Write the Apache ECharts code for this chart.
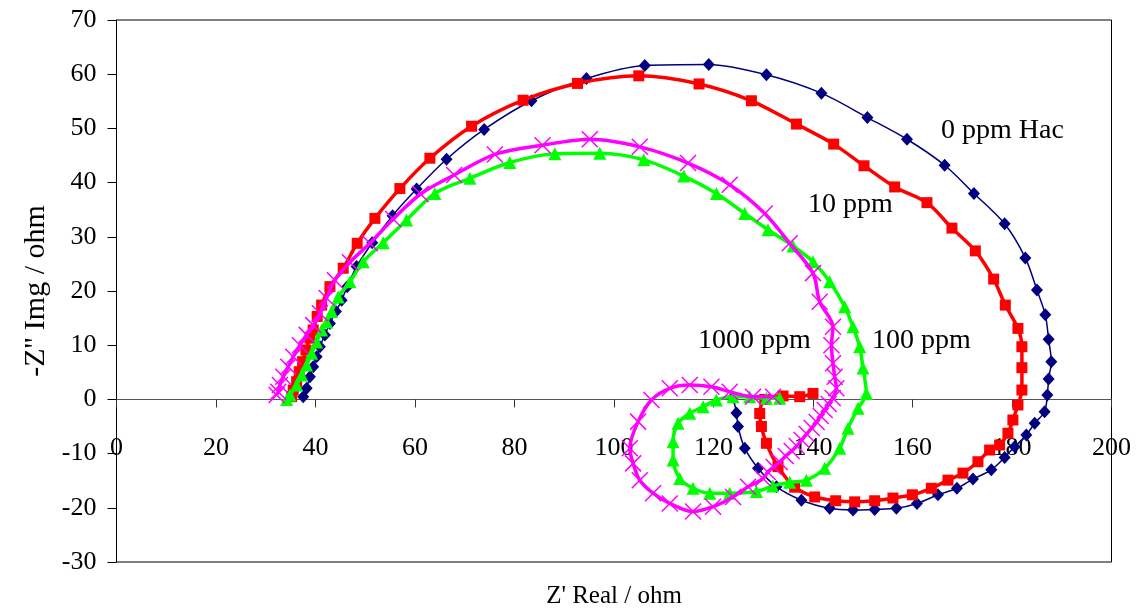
<!DOCTYPE html>
<html>
<head>
<meta charset="utf-8">
<script src="https://cdn.jsdelivr.net/npm/echarts@6/dist/echarts.min.js"></script>
<style>
html,body{margin:0;padding:0;background:#fff;}
#chart{width:1138px;height:612px;}
</style>
</head>
<body>
<div id="chart"></div>
<script>
// Axis ranges / tick settings
const xAxisTicks = { min: 0, max: 200, interval: 20 };
const yAxisTicks = { min: -30, max: 70, interval: 10 };

// Series names / annotation labels
const seriesNames = ['0 ppm Hac', '10 ppm', '100 ppm', '1000 ppm'];

// 0 ppm Hac  [Z' real, -Z'' img]
const ppm0 = [
 [37.53,0.50],[38.22,2.05],[38.88,4.19],[39.54,6.03],[40.22,7.88],[40.89,9.72],[41.89,11.9],[42.90,14.0],
 [44.10,16.2],[45.25,18.3],[46.37,20.8],[48.26,24.5],[51.40,28.9],[55.49,33.9],[60.32,38.8],[66.34,44.3],
 [73.90,49.8],[83.42,55.1],[94.47,59.2],[106.19,61.6],[119.05,61.8],[130.64,59.9],[141.69,56.5],[150.93,52.0],
 [158.89,48.0],[166.46,43.2],[172.35,38.0],[178.52,32.4],[182.68,26.1],[185.01,20.2],[186.70,15.6],[187.36,11.1],
 [187.90,6.96],[187.36,3.76],[187.10,0.81],[186.55,-2.27],[184.55,-4.41],[182.88,-6.57],[180.53,-8.73],[178.52,-10.7],
 [175.84,-13.0],[172.15,-14.7],[168.93,-16.4],[165.12,-17.6],[160.90,-19.2],[156.76,-20.1],[152.40,-20.3],[148.04,-20.4],
 [143.36,-20.1],[137.67,-18.6],[132.65,-16.1],[128.95,-12.7],[126.28,-9.0],[124.93,-5.0],[124.61,-2.5],[123.93,0.4]
];

// 10 ppm
const ppm10 = [
 [35.20,0.50],[35.52,1.73],[36.21,3.27],[36.73,5.11],[37.41,6.96],[38.07,9.11],[38.88,11.3],[39.54,12.8],
 [40.34,15.3],[41.23,17.4],[42.90,20.8],[45.57,24.2],[48.38,28.8],[51.94,33.4],[56.96,38.9],[62.99,44.5],
 [71.37,50.4],[81.73,55.2],[92.66,58.3],[104.98,59.7],[117.10,58.2],[127.62,55.1],[136.67,50.8],[144.16,47.1],
 [150.25,43.1],[156.42,39.2],[162.91,36.3],[167.93,31.6],[172.63,27.4],[176.31,22.2],[178.66,17.4],[181.19,13.1],
 [181.99,9.72],[181.99,5.85],[181.99,1.73],[181.19,-1.03],[180.18,-3.80],[179.18,-6.25],[177.51,-8.41],[175.50,-9.34],
 [173.15,-11.5],[170.14,-13.6],[167.13,-14.9],[163.79,-16.4],[159.97,-17.6],[156.07,-18.2],[152.40,-18.7],[148.38,-18.9],
 [144.56,-18.7],[140.34,-18.0],[136.32,-16.2],[132.97,-12.4],[130.64,-8.1],[129.63,-5.0],[129.29,-2.6],[130.30,0.0],
 [133.97,0.63],[137.33,0.5],[140.00,1.1]
];

// 100 ppm
const ppm100 = [
 [34.20,0.0],[34.86,0.8],[36.21,2.66],[37.21,4.5],[38.22,6.35],[39.22,8.5],[40.22,10.6],[41.23,12.8],
 [42.23,14.3],[43.24,16.2],[44.56,18.9],[46.91,21.7],[49.59,25.4],[53.61,28.9],[58.31,33.1],[63.99,38.0],
 [71.03,40.8],[79.06,43.7],[88.10,45.3],[97.14,45.4],[105.99,44.2],[114.02,41.2],[120.59,38.0],[126.28,34.3],
 [130.96,31.3],[135.98,28.3],[140.00,25.4],[143.36,21.7],[146.37,17.1],[148.04,13.4],[149.38,9.72],[150.05,5.8],
 [150.73,1.1],[149.04,-1.64],[147.03,-5.33],[145.37,-9.0],[142.35,-12.7],[138.67,-14.9],[135.32,-15.3],[131.90,-16.0],
 [128.63,-17.0],[123.26,-17.3],[119.25,-17.3],[115.89,-16.4],[113.22,-14.6],[111.87,-11.2],[111.87,-7.8],[112.88,-4.4],
 [115.23,-2.56],[117.90,-1.35],[120.59,-0.1],[123.93,0.5],[127.28,0.5],[130.64,0.2],[133.31,0.2]
];

// 1000 ppm
const ppm1000 = [
 [32.19,0.81],[32.51,1.42],[32.85,2.66],[33.51,4.19],[34.52,6.03],[35.52,7.88],[36.87,10.0],[38.22,11.9],
 [39.54,13.7],[40.89,15.9],[42.23,18.7],[43.90,22.0],[46.91,25.3],[50.93,28.8],[55.61,33.3],[61.12,37.9],
 [67.87,41.4],[76.05,45.2],[85.63,46.9],[95.14,48.0],[105.18,46.6],[114.89,43.6],[123.26,39.6],[130.30,34.3],
 [135.32,28.8],[140.00,23.3],[141.35,18.0],[144.02,13.4],[143.70,10.0],[144.02,6.66],[144.36,4.19],[144.70,2.05],
 [143.96,0.26],[143.16,-0.85],[142.35,-1.96],[141.55,-3.06],[140.74,-4.17],[139.74,-5.28],[138.74,-6.38],[137.73,-7.49],
 [136.73,-8.60],[135.72,-9.52],[134.52,-10.44],[133.31,-11.55],[132.10,-12.47],[130.90,-13.39],[129.95,-14.6],[126.94,-16.1],
 [123.93,-18.0],[119.91,-19.8],[115.89,-20.7],[111.21,-19.2],[107.85,-17.3],[105.18,-14.9],[103.84,-11.8],[103.17,-9.0],
 [104.84,-4.1],[107.53,-0.1],[111.21,2.05],[115.23,2.66],[119.59,2.34],[123.26,1.42],[127.94,0.5],[131.97,0.5]
];

const serif = "'Liberation Serif','Times New Roman',serif";
const chart = echarts.init(document.getElementById('chart'), null, { renderer: 'canvas' });

const crossPath = 'path://M0,0L10,10M10,0L0,10';

// plot area geometry (pixels)
const gridBox = { left: 116.5, right: 26.5, top: 20, bottom: 50 };
const plotHeight = 612 - gridBox.top - gridBox.bottom;
// shift x axis up from the bottom edge to the zero of the y axis
const xAxisOffset = -plotHeight * (0 - yAxisTicks.min) / (yAxisTicks.max - yAxisTicks.min);

chart.setOption({
  backgroundColor: '#ffffff',
  animation: false,
  grid: {
    left: gridBox.left, right: gridBox.right, top: gridBox.top, bottom: gridBox.bottom,
    containLabel: false,
    outerBoundsMode: 'none',
    show: true, borderColor: '#000000', borderWidth: 1, backgroundColor: 'transparent'
  },
  xAxis: {
    type: 'value',
    min: xAxisTicks.min, max: xAxisTicks.max, interval: xAxisTicks.interval,
    position: 'bottom',
    offset: xAxisOffset,
    name: "Z' Real / ohm",
    nameLocation: 'middle',
    nameGap: 185,
    nameTextStyle: { fontFamily: serif, fontSize: 25, color: '#000' },
    axisLine: { show: true, onZero: false, lineStyle: { color: '#555', width: 1 } },
    axisTick: { show: true, inside: false, length: 8, lineStyle: { color: '#333' } },
    axisLabel: { fontFamily: serif, fontSize: 26, color: '#000', margin: 36, showMinLabel: true, showMaxLabel: true },
    splitLine: { show: false }
  },
  yAxis: {
    type: 'value',
    min: yAxisTicks.min, max: yAxisTicks.max, interval: yAxisTicks.interval,
    name: "-Z'' Img / ohm",
    nameLocation: 'middle',
    nameRotate: 90,
    nameGap: 63,
    nameTextStyle: { fontFamily: serif, fontSize: 30, color: '#000' },
    axisLine: { show: true, onZero: false, lineStyle: { color: '#000', width: 1 } },
    axisTick: { show: true, inside: false, length: 9, lineStyle: { color: '#000' } },
    axisLabel: { fontFamily: serif, fontSize: 26, color: '#000', margin: 20 },
    splitLine: { show: false }
  },
  series: [
    {
      name: seriesNames[0], type: 'line', data: ppm0, smooth: 0.3,
      symbol: 'diamond', symbolSize: [12, 13],
      lineStyle: { color: '#000080', width: 1.5 },
      itemStyle: { color: '#000080' }, z: 2
    },
    {
      name: seriesNames[1], type: 'line', data: ppm10, smooth: 0.3,
      symbol: 'rect', symbolSize: 11,
      lineStyle: { color: '#FF0000', width: 3.5 },
      itemStyle: { color: '#FF0000' }, z: 3
    },
    {
      name: seriesNames[2], type: 'line', data: ppm100, smooth: 0.3,
      symbol: 'triangle', symbolSize: 13,
      lineStyle: { color: '#00FF00', width: 3.5 },
      itemStyle: { color: '#00FF00' }, z: 4
    },
    {
      name: seriesNames[3], type: 'line', data: ppm1000, smooth: 0.3,
      symbol: crossPath, symbolSize: 16,
      lineStyle: { color: '#FF00FF', width: 3.5 },
      itemStyle: { color: 'rgba(0,0,0,0)', borderColor: '#FF00FF', borderWidth: 1.5 }, z: 5
    }
  ],
  graphic: [
    { type: 'text', left: 941, top: 117, style: { text: seriesNames[0], font: '28px ' + serif, fill: '#000' } },
    { type: 'text', left: 808, top: 191, style: { text: seriesNames[1], font: '28px ' + serif, fill: '#000' } },
    { type: 'text', left: 872, top: 327, style: { text: seriesNames[2], font: '28px ' + serif, fill: '#000' } },
    { type: 'text', left: 698, top: 327, style: { text: seriesNames[3], font: '28px ' + serif, fill: '#000' } }
  ]
});
</script>
</body>
</html>
